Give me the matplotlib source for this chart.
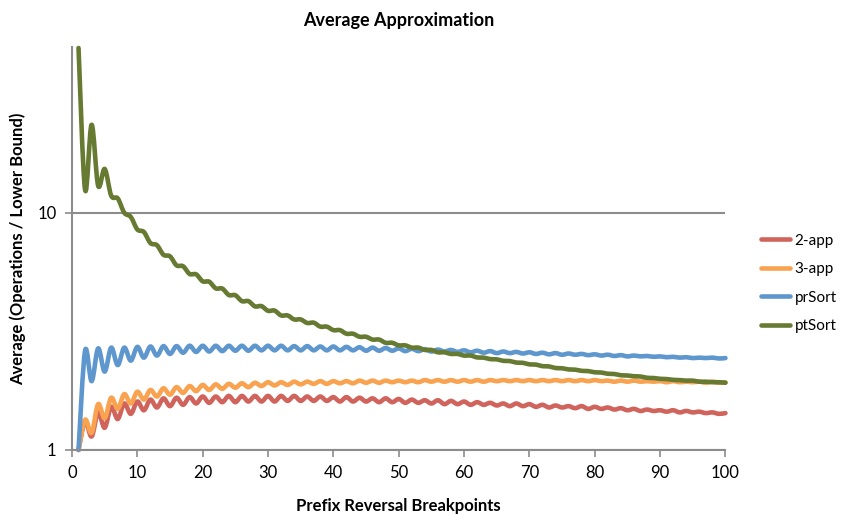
import numpy as np
import matplotlib.pyplot as plt
from matplotlib.path import Path
from matplotlib.patches import PathPatch
from matplotlib.lines import Line2D
from matplotlib.ticker import FixedLocator, FixedFormatter, NullLocator

plt.rcParams['font.family'] = ['Lato', 'DejaVu Sans']

breakpoints = list(range(1, 101))

app2 = [1.00, 1.32, 1.14, 1.44, 1.24, 1.52, 1.35, 1.57, 1.42, 1.60,
        1.47, 1.63, 1.51, 1.65, 1.53, 1.66, 1.55, 1.67, 1.57, 1.68,
        1.58, 1.68, 1.59, 1.69, 1.59, 1.69, 1.60, 1.69, 1.60, 1.69,
        1.60, 1.69, 1.61, 1.69, 1.61, 1.68, 1.61, 1.68, 1.61, 1.67,
        1.60, 1.67, 1.60, 1.66, 1.60, 1.65, 1.59, 1.65, 1.59, 1.64,
        1.58, 1.63, 1.58, 1.62, 1.57, 1.62, 1.56, 1.61, 1.56, 1.60,
        1.55, 1.59, 1.55, 1.58, 1.54, 1.57, 1.53, 1.57, 1.53, 1.56,
        1.52, 1.55, 1.51, 1.54, 1.51, 1.53, 1.50, 1.53, 1.49, 1.52,
        1.49, 1.51, 1.48, 1.50, 1.47, 1.49, 1.46, 1.48, 1.46, 1.47,
        1.45, 1.47, 1.44, 1.46, 1.44, 1.45, 1.43, 1.44, 1.42, 1.43]

app3 = [1.00, 1.34, 1.18, 1.56, 1.36, 1.66, 1.49, 1.72, 1.57, 1.76,
        1.63, 1.79, 1.68, 1.82, 1.71, 1.84, 1.74, 1.86, 1.77, 1.88,
        1.79, 1.89, 1.81, 1.90, 1.83, 1.91, 1.84, 1.92, 1.86, 1.93,
        1.87, 1.93, 1.88, 1.94, 1.89, 1.94, 1.90, 1.95, 1.90, 1.95,
        1.91, 1.95, 1.91, 1.96, 1.92, 1.96, 1.92, 1.96, 1.93, 1.96,
        1.93, 1.96, 1.93, 1.97, 1.94, 1.97, 1.94, 1.97, 1.94, 1.97,
        1.94, 1.97, 1.94, 1.97, 1.95, 1.97, 1.95, 1.97, 1.95, 1.97,
        1.95, 1.97, 1.95, 1.97, 1.95, 1.97, 1.95, 1.97, 1.95, 1.97,
        1.95, 1.96, 1.94, 1.96, 1.94, 1.96, 1.94, 1.95, 1.94, 1.95,
        1.93, 1.95, 1.93, 1.94, 1.93, 1.94, 1.92, 1.94, 1.92, 1.93]

pr_sort = [1.00, 2.62, 1.95, 2.68, 2.14, 2.70, 2.28, 2.70, 2.38, 2.72,
           2.45, 2.73, 2.50, 2.74, 2.54, 2.74, 2.57, 2.75, 2.59, 2.75,
           2.60, 2.75, 2.61, 2.75, 2.62, 2.75, 2.62, 2.75, 2.63, 2.75,
           2.63, 2.75, 2.63, 2.74, 2.63, 2.74, 2.63, 2.73, 2.63, 2.73,
           2.63, 2.72, 2.63, 2.71, 2.62, 2.70, 2.62, 2.69, 2.62, 2.68,
           2.61, 2.67, 2.61, 2.66, 2.60, 2.65, 2.60, 2.64, 2.59, 2.63,
           2.58, 2.62, 2.57, 2.61, 2.56, 2.60, 2.56, 2.59, 2.55, 2.58,
           2.54, 2.57, 2.53, 2.56, 2.52, 2.55, 2.52, 2.54, 2.51, 2.53,
           2.50, 2.52, 2.49, 2.51, 2.48, 2.50, 2.48, 2.49, 2.47, 2.48,
           2.46, 2.47, 2.45, 2.46, 2.44, 2.45, 2.44, 2.45, 2.43, 2.44]

pt_sort = [49.5, 12.5, 23.5, 13.0, 15.3, 11.8, 11.5, 10.0, 9.60, 8.50,
           8.30, 7.45, 7.30, 6.65, 6.55, 6.00, 5.95, 5.52, 5.50, 5.14,
           5.12, 4.80, 4.79, 4.50, 4.49, 4.24, 4.24, 4.03, 4.04, 3.86,
           3.87, 3.69, 3.69, 3.55, 3.55, 3.43, 3.44, 3.31, 3.31, 3.20,
           3.20, 3.09, 3.09, 3.00, 3.00, 2.92, 2.92, 2.83, 2.83, 2.76,
           2.76, 2.70, 2.70, 2.64, 2.64, 2.58, 2.58, 2.54, 2.54, 2.50,
           2.50, 2.455, 2.45, 2.415, 2.41, 2.375, 2.37, 2.335, 2.33, 2.295,
           2.29, 2.255, 2.25, 2.215, 2.21, 2.185, 2.18, 2.155, 2.15, 2.125,
           2.12, 2.095, 2.09, 2.065, 2.06, 2.045, 2.04, 2.015, 2.01, 1.995,
           1.99, 1.975, 1.97, 1.96, 1.96, 1.94, 1.94, 1.93, 1.93, 1.92]

series = [('2-app', app2, '#D0645C'),
          ('3-app', app3, '#F9A24F'),
          ('prSort', pr_sort, '#5E96CE'),
          ('ptSort', pt_sort, '#667A32')]


def smooth_path(x, y):
    # Catmull-Rom curve through the points (in log space), like Excel's smoothed lines
    pts = np.column_stack([np.asarray(x, float), np.log10(np.asarray(y, float))])
    n = len(pts)
    verts = [pts[0]]
    codes = [Path.MOVETO]
    for i in range(n - 1):
        p0 = pts[max(i - 1, 0)]
        p1 = pts[i]
        p2 = pts[i + 1]
        p3 = pts[min(i + 2, n - 1)]
        verts += [p1 + (p2 - p0) / 6.0, p2 - (p3 - p1) / 6.0, p2]
        codes += [Path.CURVE4] * 3
    verts = np.array(verts)
    verts[:, 1] = 10 ** verts[:, 1]
    return Path(verts, codes)


fig = plt.figure(figsize=(8.41, 5.16), dpi=100)
ax = fig.add_axes([0.0856, 0.128, 0.777, 0.781])
ax.set_yscale('log')

handles = []
for name, vals, col in series:
    patch = PathPatch(smooth_path(breakpoints, vals), fill=False, edgecolor=col,
                      lw=3.3, capstyle='round', joinstyle='round', clip_on=False)
    ax.add_patch(patch)
    handles.append(Line2D([], [], color=col, lw=3.3, solid_capstyle='round'))

ax.set_xlim(0, 100)
ax.set_ylim(1, 50)
ax.set_xticks(range(0, 101, 10))
ax.yaxis.set_major_locator(FixedLocator([1, 10]))
ax.yaxis.set_major_formatter(FixedFormatter(['1', '10']))
ax.yaxis.set_minor_locator(NullLocator())

for s in ['top', 'right']:
    ax.spines[s].set_visible(False)
for s in ['left', 'bottom']:
    ax.spines[s].set_color('#8c8c8c')
    ax.spines[s].set_linewidth(1.5)
ax.tick_params(axis='both', direction='out', length=5, width=1.2, color='#8c8c8c',
               labelsize=12, pad=6)
ax.yaxis.grid(True, color='#8c8c8c', lw=1.5)
ax.set_axisbelow(True)

ax.set_title('Average Approximation', fontsize=13, fontweight='bold', pad=15)
ax.set_xlabel('Prefix Reversal Breakpoints', fontsize=12, fontweight='bold', labelpad=12)
ax.set_ylabel('Average (Operations / Lower Bound)', fontsize=12, fontweight='bold', labelpad=8)

fig.legend(handles, [s[0] for s in series], loc='upper left', bbox_to_anchor=(0.896, 0.562),
           frameon=False, fontsize=11, handlelength=1.9, handletextpad=0.3,
           labelspacing=0.95, borderpad=0)

fig.savefig('out.png', dpi=100)
